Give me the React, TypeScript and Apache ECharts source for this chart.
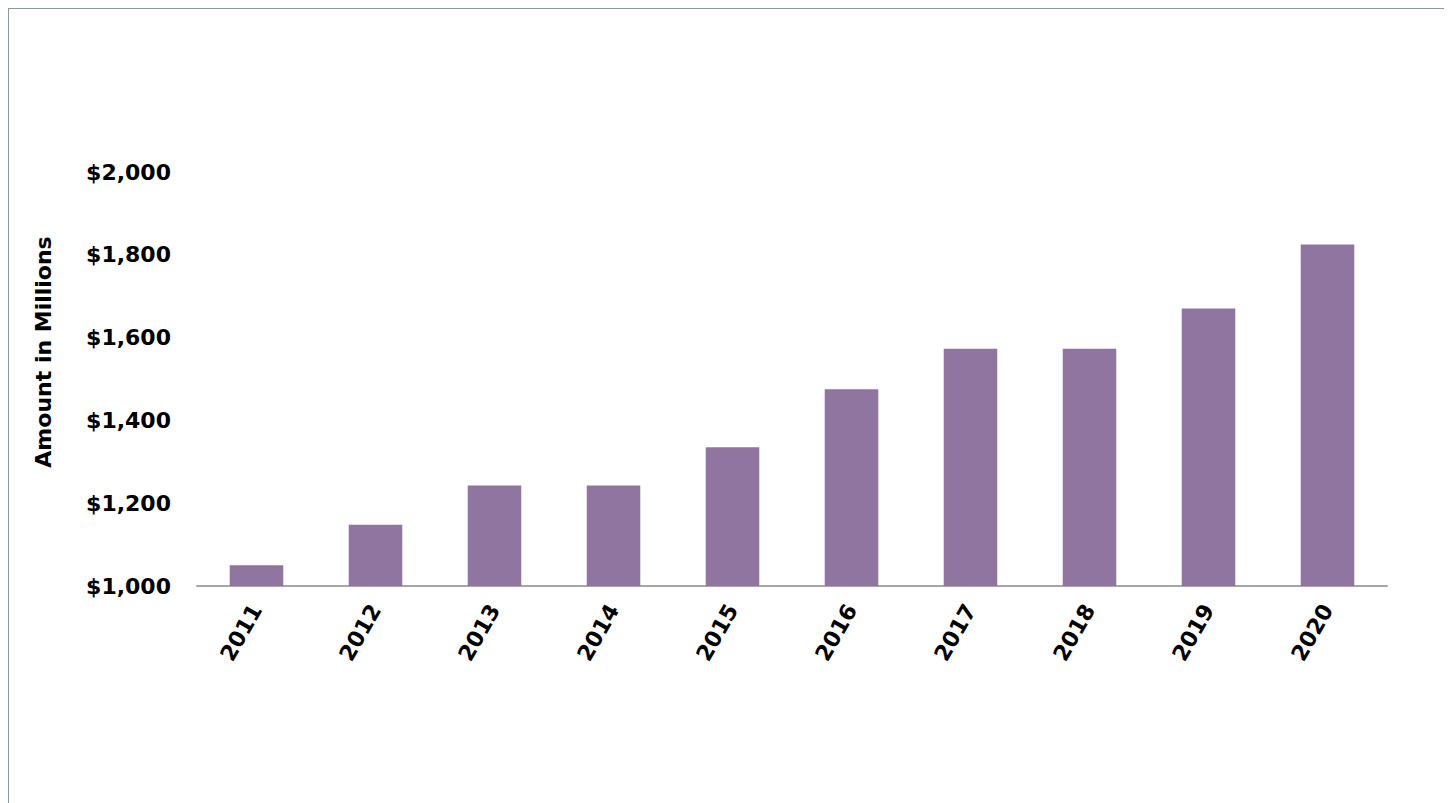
import React, { useEffect, useRef } from "react";
import * as echarts from "echarts";

const years = ["2011", "2012", "2013", "2014", "2015", "2016", "2017", "2018", "2019", "2020"];
const amounts = [1050, 1148, 1243, 1243, 1335, 1475, 1573, 1573, 1670, 1825];
const yMin = 1000;
const yMax = 2000;
const yStep = 200;
const yTitle = "Amount in Millions";

export default function App() {
  const ref = useRef<HTMLDivElement>(null);
  useEffect(() => {
    if (!ref.current) return;
    const chart = echarts.init(ref.current, undefined, { renderer: "svg" });
    const font = "'DejaVu Sans', sans-serif";
    chart.setOption({
      animation: false,
      grid: { left: 188, right: 60, top: 163, bottom: 233, containLabel: false },
      graphic: [
        {
          type: "text",
          x: 34,
          y: 343,
          rotation: Math.PI / 2,
          style: {
            text: yTitle,
            fill: "#000",
            font: "bold 22px 'DejaVu Sans', sans-serif",
            align: "center",
            verticalAlign: "middle",
          },
        },
      ],
      xAxis: {
        type: "category",
        data: years,
        axisLine: { lineStyle: { color: "#A6A6A6", width: 2 } },
        axisTick: { show: false },
        axisLabel: {
          rotate: 60,
          margin: 20,
          color: "#000",
          fontFamily: font,
          fontWeight: "bold",
          fontSize: 22,
        },
      },
      yAxis: {
        type: "value",
        min: yMin,
        max: yMax,
        interval: yStep,
        axisLine: { show: false },
        axisTick: { show: false },
        splitLine: { show: false },
        axisLabel: {
          margin: 26,
          color: "#000",
          fontFamily: font,
          fontWeight: "bold",
          fontSize: 22,
          formatter: (v: number) => "$" + v.toLocaleString("en-US"),
        },
      },
      series: [
        {
          type: "bar",
          data: amounts,
          barWidth: "45%",
          itemStyle: { color: "#8F75A0" },
        },
      ],
    });
    return () => chart.dispose();
  }, []);
  return (
    <div style={{ border: "1px solid #8E95A8", width: 1438, height: 810 }}>
      <div ref={ref} style={{ width: 1438, height: 810 }} />
    </div>
  );
}
